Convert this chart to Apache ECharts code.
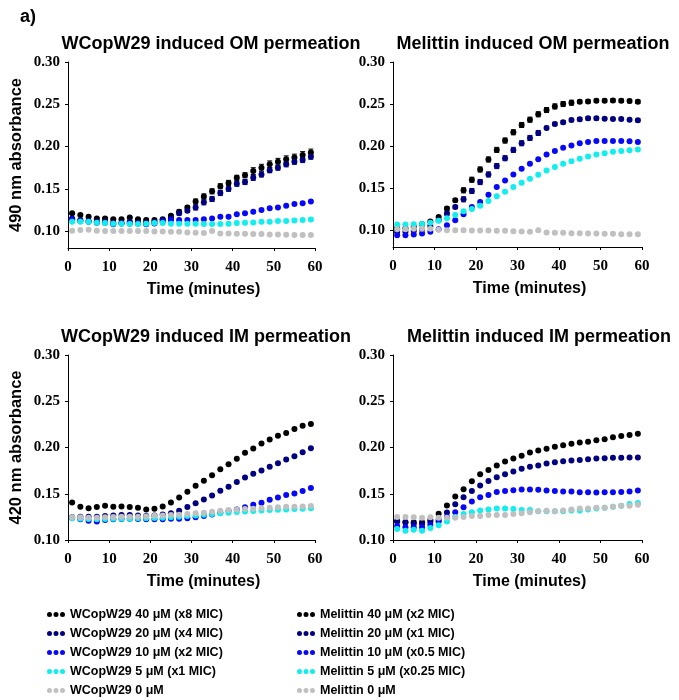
<!DOCTYPE html>
<html>
<head>
<meta charset="utf-8">
<script src="https://cdn.jsdelivr.net/npm/echarts@6/dist/echarts.min.js"></script>
<style>html,body{margin:0;padding:0;background:#fff}#c{width:679px;height:700px}</style>
</head>
<body>
<div id="c"></div>
<script>
// ---- data ----
const minutes = [1,3,5,7,9,11,13,15,17,19,21,23,25,27,29,31,33,35,37,39,41,43,45,47,49,51,53,55,57,59];
const xTicks = [0,10,20,30,40,50,60];
const yTicks = [0.10,0.15,0.20,0.25,0.30];

const wNames = ['WCopW29 40 μM (x8 MIC)','WCopW29 20 μM (x4 MIC)','WCopW29 10 μM (x2 MIC)','WCopW29 5 μM (x1 MIC)','WCopW29 0 μM'];
const mNames = ['Melittin 40 μM (x2 MIC)','Melittin 20 μM (x1 MIC)','Melittin 10 μM (x0.5 MIC)','Melittin 5 μM (x0.25 MIC)','Melittin 0 μM'];
const titles = ['WCopW29 induced OM permeation','Melittin induced OM permeation','WCopW29 induced IM permeation','Melittin induced IM permeation'];

// OM permeation, WCopW29 (490 nm)
const omW40 = [0.121,0.119,0.117,0.115,0.115,0.114,0.114,0.116,0.114,0.113,0.113,0.114,0.118,0.123,0.128,0.135,0.141,0.147,0.153,0.157,0.163,0.166,0.171,0.175,0.179,0.182,0.185,0.187,0.190,0.193];
const omW20 = [0.115,0.113,0.112,0.111,0.111,0.110,0.110,0.111,0.110,0.110,0.111,0.113,0.115,0.121,0.124,0.128,0.134,0.138,0.145,0.150,0.156,0.158,0.163,0.167,0.172,0.175,0.179,0.182,0.184,0.188];
const omW10 = [0.114,0.112,0.111,0.110,0.110,0.108,0.109,0.109,0.109,0.108,0.109,0.111,0.113,0.113,0.113,0.113,0.114,0.115,0.117,0.117,0.120,0.121,0.123,0.125,0.127,0.128,0.130,0.132,0.133,0.135];
const omW5  = [0.111,0.111,0.111,0.110,0.1095,0.1087,0.1087,0.1083,0.1083,0.1087,0.1095,0.1095,0.1087,0.1087,0.1087,0.1087,0.1083,0.1083,0.1083,0.1087,0.1095,0.1099,0.1102,0.111,0.111,0.1118,0.1118,0.1126,0.113,0.1138];
const omW0  = [0.1004,0.1012,0.1016,0.1004,0.100,0.100,0.100,0.100,0.100,0.100,0.0996,0.0996,0.0992,0.0992,0.0984,0.098,0.0976,0.100,0.0972,0.0972,0.0968,0.0968,0.0965,0.0965,0.0961,0.0961,0.0957,0.0953,0.0953,0.0953];
const omW40err = [0.001,0.001,0.001,0.001,0.001,0.001,0.001,0.001,0.001,0.001,0.001,0.001,0.001,0.002,0.002,0.003,0.003,0.003,0.003,0.003,0.003,0.003,0.004,0.004,0.004,0.004,0.004,0.004,0.004,0.004];
const omW20err = [0.001,0.001,0.001,0.001,0.001,0.001,0.001,0.001,0.001,0.001,0.001,0.001,0.001,0.002,0.002,0.003,0.003,0.003,0.003,0.003,0.003,0.003,0.003,0.003,0.003,0.003,0.003,0.003,0.003,0.003];

// OM permeation, Melittin (490 nm)
const omM40 = [0.102,0.1024,0.1039,0.1071,0.1103,0.1158,0.1257,0.1355,0.1474,0.160,0.1722,0.1841,0.1955,0.2066,0.2164,0.2251,0.2314,0.2378,0.2429,0.2472,0.250,0.2516,0.2527,0.2531,0.2539,0.2539,0.2543,0.2539,0.2535,0.2527];
const omM20 = [0.098,0.098,0.0992,0.1008,0.1051,0.1118,0.1197,0.1276,0.1367,0.1466,0.1572,0.1663,0.1762,0.1856,0.1955,0.2034,0.2097,0.2156,0.2216,0.2263,0.2283,0.231,0.2318,0.233,0.233,0.2326,0.2322,0.2322,0.2314,0.2306];
const omM10 = [0.0941,0.0941,0.0949,0.0961,0.098,0.1012,0.1059,0.1118,0.1189,0.1276,0.1335,0.1422,0.1513,0.1592,0.1663,0.173,0.1789,0.1845,0.190,0.1943,0.1979,0.2006,0.2034,0.205,0.2062,0.2062,0.2062,0.2062,0.2058,0.205];
const omM5  = [0.1067,0.1067,0.1071,0.1075,0.1087,0.1111,0.1142,0.1182,0.1225,0.1253,0.1292,0.1347,0.1403,0.1458,0.1513,0.1564,0.1612,0.1659,0.1711,0.175,0.1789,0.1821,0.1849,0.1876,0.190,0.1916,0.1932,0.1943,0.1951,0.1959];
const omM0  = [0.1012,0.1012,0.1016,0.1016,0.1016,0.1004,0.100,0.100,0.100,0.0996,0.0996,0.0996,0.0992,0.0992,0.0988,0.0984,0.098,0.100,0.0972,0.0968,0.0968,0.0964,0.0964,0.0961,0.0961,0.0957,0.0957,0.0953,0.0953,0.0953];
const omM40err = [0.001,0.001,0.001,0.001,0.001,0.001,0.002,0.002,0.003,0.003,0.003,0.003,0.003,0.003,0.003,0.003,0.003,0.003,0.003,0.003,0.003,0.003,0.002,0.002,0.002,0.002,0.002,0.002,0.002,0.002];
const omM20err = [0.001,0.001,0.001,0.001,0.001,0.001,0.002,0.002,0.003,0.003,0.003,0.003,0.003,0.003,0.003,0.003,0.003,0.003,0.002,0.002,0.002,0.002,0.002,0.002,0.002,0.001,0.001,0.001,0.001,0.002];

// IM permeation, WCopW29 (420 nm)
const imW40 = [0.1406,0.136,0.1342,0.1356,0.1371,0.136,0.1363,0.1356,0.1349,0.1331,0.1338,0.1363,0.1406,0.146,0.1522,0.1586,0.164,0.1701,0.1766,0.182,0.1878,0.1942,0.1989,0.2043,0.2086,0.2126,0.2158,0.2201,0.2234,0.2255];
const imW20 = [0.1245,0.1252,0.1252,0.1252,0.1259,0.1266,0.127,0.127,0.1266,0.1259,0.1266,0.1277,0.1288,0.1317,0.1356,0.1396,0.1439,0.1482,0.1532,0.1576,0.1626,0.1676,0.1716,0.1752,0.1791,0.1831,0.187,0.1906,0.195,0.1993];
const imW10 = [0.1241,0.1223,0.1209,0.1201,0.1216,0.1223,0.1227,0.123,0.1227,0.1223,0.1223,0.1223,0.123,0.123,0.1234,0.1245,0.1259,0.1277,0.1295,0.1313,0.1331,0.1353,0.1381,0.1403,0.1435,0.146,0.1486,0.1504,0.1529,0.1561];
const imW5  = [0.1234,0.123,0.1227,0.1223,0.1227,0.123,0.123,0.123,0.1234,0.1234,0.1237,0.1241,0.1245,0.1252,0.1259,0.1266,0.1273,0.1281,0.1288,0.1295,0.1302,0.1309,0.1313,0.132,0.1324,0.1327,0.1331,0.1335,0.1338,0.1342];
const imW0  = [0.1245,0.1245,0.1241,0.1241,0.1245,0.1248,0.1252,0.1252,0.1252,0.1255,0.1263,0.1266,0.127,0.1273,0.1281,0.1288,0.1295,0.1306,0.1317,0.1324,0.1327,0.1335,0.1338,0.1342,0.1349,0.1353,0.136,0.136,0.1363,0.1367];

// IM permeation, Melittin (420 nm)
const imM40 = [0.1206,0.1195,0.1191,0.1191,0.1217,0.1285,0.1372,0.1469,0.1549,0.1635,0.1711,0.1758,0.1805,0.1848,0.1881,0.191,0.1946,0.1967,0.1986,0.2007,0.2025,0.204,0.2054,0.2061,0.2079,0.209,0.2112,0.2123,0.2134,0.2148];
const imM20 = [0.1199,0.1188,0.1177,0.1173,0.1195,0.1217,0.1296,0.1386,0.1462,0.153,0.1588,0.1639,0.1679,0.1711,0.174,0.1769,0.1791,0.1805,0.1827,0.1841,0.1852,0.1859,0.1866,0.1874,0.1881,0.1884,0.1888,0.1888,0.1892,0.1892];
const imM10 = [0.1152,0.1137,0.1137,0.1137,0.1162,0.120,0.125,0.130,0.1354,0.1415,0.1462,0.1487,0.152,0.1531,0.1538,0.1545,0.1545,0.1542,0.1534,0.1531,0.1523,0.1523,0.1516,0.1516,0.1513,0.1516,0.1516,0.152,0.1523,0.1534];
const imM5  = [0.112,0.110,0.111,0.110,0.113,0.116,0.120,0.125,0.128,0.130,0.132,0.133,0.134,0.134,0.1335,0.1325,0.1325,0.131,0.131,0.131,0.131,0.132,0.132,0.133,0.134,0.135,0.136,0.137,0.139,0.140];
const imM0  = [0.125,0.125,0.1245,0.124,0.1245,0.124,0.124,0.124,0.125,0.126,0.126,0.127,0.127,0.127,0.128,0.129,0.130,0.131,0.1315,0.131,0.132,0.133,0.134,0.134,0.135,0.135,0.136,0.137,0.137,0.138];

// ---- styling ----
const colors = ['#000000','#000080','#0808f8','#11eeee','#c0c0c0'];
const SANS = 'Liberation Sans, Arial, sans-serif';
const SERIF = 'Liberation Serif, Times New Roman, serif';

const grids = [
  {left:68, top:62, width:247, height:186},
  {left:393, top:62, width:249, height:185},
  {left:68, top:355, width:247, height:185},
  {left:393, top:355, width:249, height:185}
];
const yMins = [0.08,0.08,0.10,0.10];
const yNames = ['490 nm absorbance','','420 nm absorbance',''];

const panels = [
  {names:wNames, data:[omW40,omW20,omW10,omW5,omW0], err:[omW40err,omW20err]},
  {names:mNames, data:[omM40,omM20,omM10,omM5,omM0], err:[omM40err,omM20err]},
  {names:wNames, data:[imW40,imW20,imW10,imW5,imW0], err:null},
  {names:mNames, data:[imM40,imM20,imM10,imM5,imM0], err:null}
];

const xAxes = [], yAxes = [], series = [];
grids.forEach((g,i)=>{
  xAxes.push({
    type:'value', gridIndex:i, min:0, max:60, interval:10,
    axisLine:{show:true, onZero:false, lineStyle:{color:'#000', width:1}},
    axisTick:{show:true, length:3, lineStyle:{color:'#000'}},
    splitLine:{show:false},
    axisLabel:{margin:12, color:'#000', fontFamily:SERIF, fontWeight:'bold', fontSize:15},
    name:'Time (minutes)', nameLocation:'middle', nameGap:34,
    nameTextStyle:{color:'#000', fontFamily:SANS, fontWeight:'bold', fontSize:16, padding:[0,0,0,24]}
  });
  yAxes.push({
    type:'value', gridIndex:i, min:yMins[i], max:0.30,
    axisLine:{show:true, onZero:false, lineStyle:{color:'#000', width:1}},
    axisTick:{show:true, length:3, customValues:yTicks, lineStyle:{color:'#000'}},
    splitLine:{show:false},
    axisLabel:{customValues:yTicks, margin:8, color:'#000', fontFamily:SERIF, fontWeight:'bold', fontSize:15,
      formatter:v=>v.toFixed(2)},
    name:yNames[i], nameLocation:'middle', nameGap:43, nameRotate:90,
    nameTextStyle:{color:'#000', fontFamily:SANS, fontWeight:'bold', fontSize:16.5}
  });
  const p = panels[i];
  if (p.err) {
    p.err.forEach((e,k)=>{
      series.push({
        type:'custom', name:'err'+i+'_'+k, xAxisIndex:i, yAxisIndex:i, silent:true, z:1,
        data: minutes.map((m,j)=>[m, p.data[k][j]-e[j], p.data[k][j]+e[j]]),
        renderItem:(params, api)=>{
          const lo = api.coord([api.value(0), api.value(1)]);
          const hi = api.coord([api.value(0), api.value(2)]);
          const c = colors[k];
          return {type:'group', children:[
            {type:'line', shape:{x1:lo[0],y1:lo[1],x2:hi[0],y2:hi[1]}, style:{stroke:c, lineWidth:1}},
            {type:'line', shape:{x1:lo[0]-2.5,y1:lo[1],x2:lo[0]+2.5,y2:lo[1]}, style:{stroke:c, lineWidth:1}},
            {type:'line', shape:{x1:hi[0]-2.5,y1:hi[1],x2:hi[0]+2.5,y2:hi[1]}, style:{stroke:c, lineWidth:1}}
          ]};
        }
      });
    });
  }
  p.data.forEach((arr,k)=>{
    series.push({
      type:'scatter', name:p.names[k], xAxisIndex:i, yAxisIndex:i, z:2,
      symbol:'circle', symbolSize:6,
      itemStyle:{color:colors[k], opacity:1},
      data: minutes.map((m,j)=>[m, arr[j]])
    });
  });
});

const dotIcon = 'path://M0,2.5a2.5,2.5 0 1,0 5,0a2.5,2.5 0 1,0 -5,0Z M6.5,2.5a2.5,2.5 0 1,0 5,0a2.5,2.5 0 1,0 -5,0Z M13,2.5a2.5,2.5 0 1,0 5,0a2.5,2.5 0 1,0 -5,0Z';
const legendBase = {
  orient:'vertical', itemWidth:18, itemHeight:5, itemGap:4, icon:dotIcon, selectedMode:false,
  padding:0, height:100,
  textStyle:{color:'#000', fontFamily:SANS, fontWeight:'bold', fontSize:12.5, lineHeight:15}
};

const titleCenters = [[211,44],[533,44],[206,337],[539,337]];
const graphic = titles.map((t,i)=>({
  type:'text', x:titleCenters[i][0], y:titleCenters[i][1],
  style:{text:t, textAlign:'center', textVerticalAlign:'middle', fill:'#000', font:'bold 18px '+SANS}
}));
graphic.push({type:'text', x:20, y:17, style:{text:'a)', textAlign:'left', textVerticalAlign:'middle', fill:'#000', font:'bold 18px '+SANS}});

const chart = echarts.init(document.getElementById('c'), null, {renderer:'canvas'});
chart.setOption({
  animation:false,
  backgroundColor:'#fff',
  grid:grids,
  xAxis:xAxes,
  yAxis:yAxes,
  series:series,
  graphic:graphic,
  legend:[
    Object.assign({}, legendBase, {left:47, top:607, data:wNames}),
    Object.assign({}, legendBase, {left:297, top:607, data:mNames})
  ]
});
</script>
</body>
</html>
